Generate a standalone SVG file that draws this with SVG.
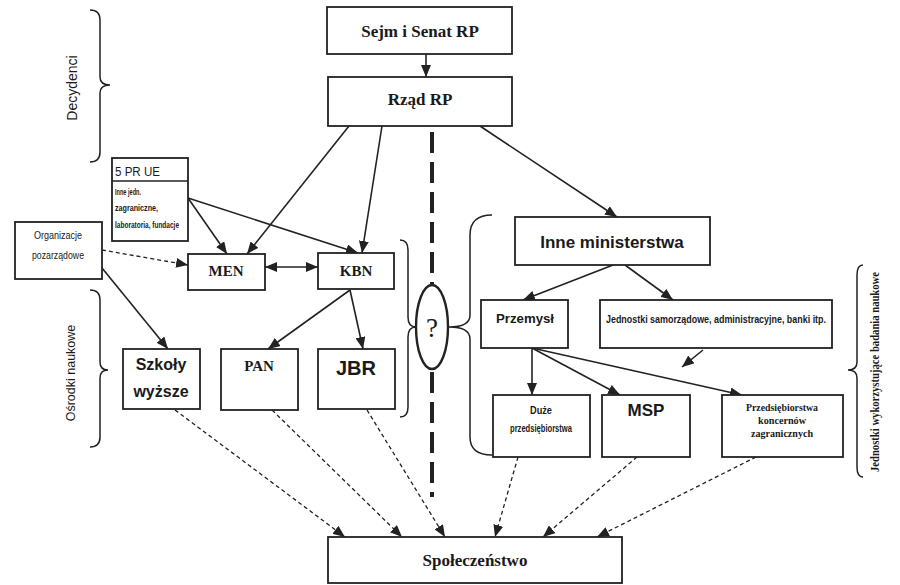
<svg xmlns="http://www.w3.org/2000/svg" width="900" height="585" viewBox="0 0 900 585">
<style>
.box{fill:#fff;stroke:#222;stroke-width:1.8}
.ln{fill:none;stroke:#222;stroke-width:1.6}
.dl{fill:none;stroke:#222;stroke-width:1.3;stroke-dasharray:4 3}
.br{fill:none;stroke:#222;stroke-width:1.5}
.ser{font-family:"Liberation Serif",serif;font-weight:bold;fill:#1a1a1a;text-anchor:middle}
.san{font-family:"Liberation Sans",sans-serif;font-weight:bold;fill:#1a1a1a;text-anchor:middle}
.cnd{font-family:"Liberation Sans",sans-serif;fill:#1a1a1a}
.cb{font-family:"Liberation Sans",sans-serif;font-weight:bold;fill:#1a1a1a}
</style>
<defs>
<marker id="ah" viewBox="0 0 12 10" refX="12" refY="5" markerWidth="12" markerHeight="10" markerUnits="userSpaceOnUse" orient="auto-start-reverse">
<path d="M0,0 L12,5 L0,10 z" fill="#222"/>
</marker>
</defs>
<rect width="900" height="585" fill="#fff"/>

<g id="connectors">
<line class="ln" x1="426" y1="54" x2="426" y2="77" marker-end="url(#ah)"/>
<line class="ln" x1="349" y1="126" x2="247" y2="254" marker-end="url(#ah)"/>
<line class="ln" x1="382" y1="126" x2="362" y2="253" marker-end="url(#ah)"/>
<line class="ln" x1="480" y1="126" x2="617" y2="217" marker-end="url(#ah)"/>
<line class="ln" x1="188" y1="198" x2="227" y2="254" marker-end="url(#ah)"/>
<line class="ln" x1="188" y1="198" x2="358" y2="253" marker-end="url(#ah)"/>
<line class="dl" x1="102" y1="250" x2="188" y2="265" marker-end="url(#ah)"/>
<line class="ln" x1="102" y1="268" x2="168" y2="349" marker-end="url(#ah)"/>
<line class="ln" x1="265" y1="267" x2="318" y2="267" marker-start="url(#ah)" marker-end="url(#ah)"/>
<line class="ln" x1="350" y1="290" x2="268" y2="349" marker-end="url(#ah)"/>
<line class="ln" x1="350" y1="290" x2="363" y2="349" marker-end="url(#ah)"/>
<line class="ln" x1="613" y1="265" x2="523" y2="300" marker-end="url(#ah)"/>
<line class="ln" x1="625" y1="265" x2="673" y2="300" marker-end="url(#ah)"/>
<line class="ln" x1="703" y1="350" x2="682" y2="367" marker-end="url(#ah)"/>
<line class="ln" x1="532" y1="348" x2="532" y2="395" marker-end="url(#ah)"/>
<line class="ln" x1="532" y1="348" x2="620" y2="395" marker-end="url(#ah)"/>
<line class="ln" x1="532" y1="348" x2="742" y2="395" marker-end="url(#ah)"/>
<line class="dl" x1="175" y1="410" x2="345" y2="537" marker-end="url(#ah)"/>
<line class="dl" x1="272" y1="410" x2="402" y2="537" marker-end="url(#ah)"/>
<line class="dl" x1="367" y1="410" x2="445" y2="537" marker-end="url(#ah)"/>
<line class="dl" x1="518" y1="457" x2="495" y2="537" marker-end="url(#ah)"/>
<line class="dl" x1="637" y1="457" x2="543" y2="537" marker-end="url(#ah)"/>
<line class="dl" x1="756" y1="457" x2="597" y2="537" marker-end="url(#ah)"/>
<line x1="432" y1="132" x2="432" y2="497" stroke="#222" stroke-width="4" stroke-dasharray="21 9"/>
</g>

<g id="braces">
<path class="br" d="M90,10 Q100,10 100,20 L100,77 Q100,85 110,85 Q100,85 100,93 L100,152 Q100,162 90,162"/>
<path class="br" d="M90,290 Q100,290 100,300 L100,362 Q100,370 108,370 Q100,370 100,378 L100,437 Q100,447 90,447"/>
<path class="br" d="M400,240 Q408,240 408,250 L408,317 Q408,327 416,327 Q408,327 408,337 L408,407 Q408,417 400,417"/>
<path class="br" d="M492,215 Q470,215 470,235 L470,315 Q470,327 449,327 Q470,327 470,339 L470,437 Q470,455 492,455"/>
<path class="br" d="M863,265 Q857,265 857,275 L857,362 Q857,370 848,370 Q857,370 857,378 L857,467 Q857,477 863,477"/>
<text class="cnd" font-size="14" text-anchor="middle" transform="translate(77,88) rotate(-90)">Decydenci</text>
<text class="cnd" font-size="12.5" text-anchor="middle" transform="translate(75,373) rotate(-90)">Ośrodki naukowe</text>
<text font-family="Liberation Serif,serif" font-weight="bold" font-size="12" fill="#1a1a1a" text-anchor="middle" textLength="200" lengthAdjust="spacingAndGlyphs" transform="translate(879,372) rotate(-90)">Jednostki wykorzystujące badania naukowe</text>
</g>

<g id="sejm"><rect class="box" x="327" y="7" width="185" height="47"/><text class="ser" x="420" y="37" font-size="17">Sejm i Senat RP</text></g>
<g id="rzad"><rect class="box" x="328" y="77" width="184" height="49"/><text class="ser" x="420" y="105" font-size="17">Rząd RP</text></g>
<g id="pr5"><rect class="box" x="112" y="158" width="76" height="83"/><line class="ln" x1="112" y1="181" x2="188" y2="181"/>
<text class="cnd" x="115" y="176" font-size="12" textLength="45" lengthAdjust="spacingAndGlyphs">5 PR UE</text>
<text class="cb" x="115" y="195" font-size="8.5" textLength="26" lengthAdjust="spacingAndGlyphs">Inne jedn.</text>
<text class="cb" x="115" y="211" font-size="8.5" textLength="43" lengthAdjust="spacingAndGlyphs">zagraniczne,</text>
<text class="cb" x="115" y="228" font-size="8.5" textLength="64" lengthAdjust="spacingAndGlyphs">laboratoria, fundacje</text></g>
<g id="org"><rect class="box" x="15" y="222" width="87" height="57"/>
<text class="cnd" x="58" y="239" font-size="10.5" text-anchor="middle" textLength="48" lengthAdjust="spacingAndGlyphs">Organizacje</text>
<text class="cnd" x="58" y="259" font-size="10.5" text-anchor="middle" textLength="52" lengthAdjust="spacingAndGlyphs">pozarządowe</text></g>
<g id="men"><rect class="box" x="188" y="254" width="77" height="36"/><text class="ser" x="226" y="276" font-size="15">MEN</text></g>
<g id="kbn"><rect class="box" x="318" y="253" width="76" height="36"/><text class="ser" x="356" y="276" font-size="15">KBN</text></g>
<g id="szkoly"><rect class="box" x="123" y="349" width="77" height="60"/><text class="san" x="161" y="370" font-size="16">Szkoły</text><text class="san" x="161" y="397" font-size="16">wyższe</text></g>
<g id="pan"><rect class="box" x="221" y="349" width="77" height="61"/><text class="ser" x="259" y="371" font-size="15">PAN</text></g>
<g id="jbr"><rect class="box" x="318" y="349" width="77" height="60"/><text class="san" x="356" y="375" font-size="20">JBR</text></g>
<g id="pytanie"><ellipse cx="432" cy="327" rx="16" ry="42" fill="#fff" stroke="#222" stroke-width="2.4"/><text font-family="Liberation Serif,serif" font-size="27" fill="#1a1a1a" text-anchor="middle" x="432" y="337">?</text></g>
<g id="inne"><rect class="box" x="515" y="217" width="195" height="48"/><text class="san" x="612" y="248" font-size="17">Inne ministerstwa</text></g>
<g id="przemysl"><rect class="box" x="481" y="300" width="87" height="48"/><text class="san" x="525" y="323" font-size="12.5" textLength="58" lengthAdjust="spacingAndGlyphs">Przemysł</text></g>
<g id="jednostki"><rect class="box" x="600" y="300" width="232" height="48"/><text class="cb" x="716" y="323" font-size="10.5" text-anchor="middle" textLength="220" lengthAdjust="spacingAndGlyphs">Jednostki samorządowe, administracyjne, banki itp.</text></g>
<g id="duze"><rect class="box" x="493" y="395" width="97" height="62"/>
<text class="cb" x="541" y="414" font-size="10" text-anchor="middle" textLength="22" lengthAdjust="spacingAndGlyphs">Duże</text>
<text class="cb" x="541" y="432" font-size="10" text-anchor="middle" textLength="62" lengthAdjust="spacingAndGlyphs">przedsiębiorstwa</text></g>
<g id="msp"><rect class="box" x="602" y="395" width="88" height="62"/><text class="san" x="646" y="416" font-size="17">MSP</text></g>
<g id="koncerny"><rect class="box" x="722" y="395" width="121" height="62"/>
<text class="ser" x="782" y="411" font-size="10.5" textLength="72" lengthAdjust="spacingAndGlyphs">Przedsiębiorstwa</text>
<text class="ser" x="782" y="424" font-size="10.5" textLength="48" lengthAdjust="spacingAndGlyphs">koncernów</text>
<text class="ser" x="782" y="437" font-size="10.5" textLength="62" lengthAdjust="spacingAndGlyphs">zagranicznych</text></g>
<g id="spoleczenstwo"><rect class="box" x="328" y="537" width="294" height="46"/><text class="ser" x="475" y="566" font-size="17">Społeczeństwo</text></g>
</svg>
